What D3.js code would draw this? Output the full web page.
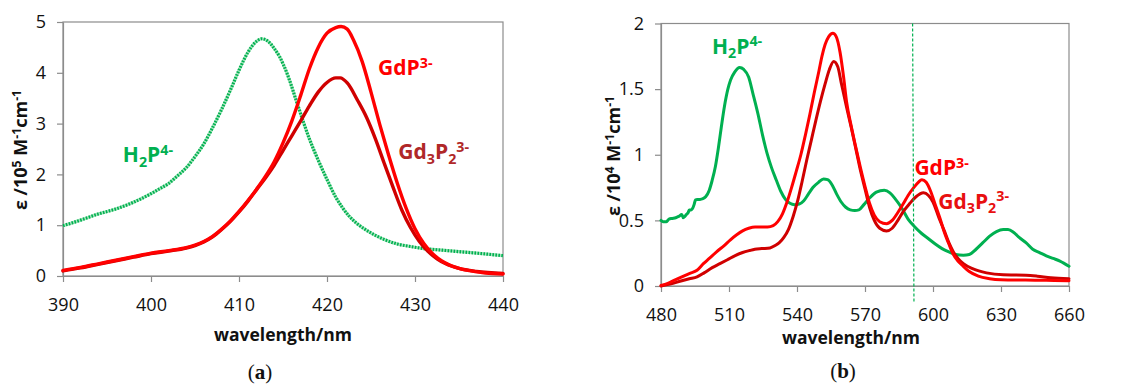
<!DOCTYPE html>
<html><head><meta charset="utf-8">
<script src="https://cdn.jsdelivr.net/npm/d3@7"></script>
<style>
html,body{margin:0;padding:0;background:#fff;}
svg{display:block;}
</style></head>
<body>
<svg id="chart" width="1130" height="385"></svg>
<script>
// ---------------- DATA ----------------
// Panel (a): Soret region, eps / 10^5 M^-1 cm^-1
const aXTicks = [390, 400, 410, 420, 430, 440];
const aYTicks = [0, 1, 2, 3, 4, 5];
const aH2P = [[390,0.99],[392,1.10],[394,1.22],[396,1.32],[398,1.45],[400,1.62],[401,1.72],[402,1.82],[403,1.97],[404,2.13],[405,2.35],[406,2.60],[407,2.92],[408,3.27],[409,3.65],[410,4.05],[411,4.40],[412,4.62],[412.6,4.67],[413.3,4.62],[414,4.48],[414.6,4.32],[415.5,3.97],[416.7,3.35],[418,2.70],[419,2.28],[420,1.90],[421,1.55],[421.7,1.36],[422.5,1.18],[423.5,1.02],[424.5,0.90],[425.5,0.80],[426.5,0.72],[428,0.63],[429.5,0.58],[431,0.54],[433,0.51],[435,0.48],[437,0.45],[440,0.40]];
const aGdP = [[390,0.11],[392,0.17],[394,0.24],[396,0.31],[398,0.38],[400,0.45],[402,0.50],[404,0.56],[405,0.61],[406,0.68],[407,0.78],[408,0.92],[409,1.08],[410,1.27],[411,1.48],[412,1.71],[413,1.96],[414,2.25],[415,2.62],[416,3.05],[417,3.55],[418,4.08],[419,4.50],[420,4.78],[421,4.89],[421.6,4.91],[422.3,4.86],[423,4.65],[424,4.22],[425,3.62],[426,2.98],[427,2.38],[428,1.82],[429,1.33],[430,0.93],[431,0.64],[432,0.44],[433,0.30],[434,0.21],[435,0.15],[436,0.11],[437,0.08],[438,0.06],[440,0.04]];
const aGd3P2 = [[390,0.10],[392,0.16],[394,0.23],[396,0.30],[398,0.37],[400,0.44],[402,0.49],[404,0.55],[405,0.60],[406,0.67],[407,0.77],[408,0.91],[409,1.07],[410,1.26],[411,1.47],[412,1.70],[413,1.93],[414,2.18],[415,2.47],[416,2.76],[417,3.05],[418,3.35],[419,3.62],[420,3.81],[421,3.90],[421.5,3.90],[422.3,3.80],[423.5,3.45],[424.5,3.12],[425.5,2.70],[426.5,2.22],[427.5,1.75],[428.5,1.30],[429.5,0.95],[430.5,0.68],[431.5,0.48],[432.5,0.34],[433.5,0.24],[435,0.15],[437,0.09],[440,0.05]];

// Panel (b): Q-band region, eps / 10^4 M^-1 cm^-1
const bXTicks = [480, 510, 540, 570, 600, 630, 660];
const bYTicks = [0, 0.5, 1, 1.5, 2];
const bH2P = [[480,0.50],[481,0.49],[482.4,0.49],[483.5,0.51],[485,0.515],[486.5,0.52],[487.8,0.53],[489.2,0.545],[489.8,0.52],[490.5,0.53],[491.2,0.545],[492,0.56],[492.5,0.58],[493.3,0.58],[493.9,0.59],[494.6,0.62],[495.2,0.655],[496,0.66],[497.2,0.66],[498.5,0.665],[499.7,0.68],[501.3,0.73],[502.5,0.80],[504,0.91],[505.3,1.05],[506.6,1.21],[508,1.37],[509.5,1.50],[510.7,1.57],[512.5,1.63],[514.7,1.665],[516.5,1.65],[518.7,1.59],[520.5,1.47],[522.8,1.31],[524.8,1.15],[526.8,1.01],[528.8,0.90],[530.8,0.81],[532.9,0.72],[534.9,0.66],[536.9,0.63],[538.9,0.62],[541,0.625],[543,0.65],[545,0.70],[547,0.75],[549.5,0.79],[551.7,0.815],[553.5,0.81],[555.5,0.77],[557.5,0.70],[559.5,0.64],[561.5,0.60],[563.5,0.58],[565.5,0.575],[567.3,0.58],[569.5,0.62],[572,0.67],[575,0.715],[578.5,0.73],[581,0.71],[583.5,0.66],[586,0.60],[589,0.51],[592,0.45],[595,0.40],[598,0.36],[601,0.32],[604,0.285],[607,0.26],[610,0.24],[613.4,0.235],[616,0.24],[619,0.28],[622,0.33],[625,0.38],[628,0.415],[631,0.43],[633.1,0.43],[635.5,0.41],[638,0.37],[641,0.33],[644,0.28],[647,0.255],[650,0.23],[653,0.21],[656,0.19],[660,0.15]];
const bGdP = [[480,0.005],[483,0.02],[486,0.045],[489.2,0.07],[492.5,0.095],[495.9,0.12],[498.7,0.17],[501.3,0.21],[504.5,0.26],[508,0.31],[510.5,0.35],[513.4,0.39],[516,0.42],[518.7,0.44],[521.5,0.45],[524.1,0.45],[527,0.45],[529.5,0.46],[531.5,0.49],[533.6,0.55],[535.6,0.64],[537.6,0.75],[539.6,0.87],[541.7,1.0],[543.7,1.15],[545.7,1.31],[547.7,1.48],[549.7,1.64],[551,1.75],[552.4,1.84],[554,1.90],[555.8,1.925],[557.3,1.90],[559,1.78],[560.5,1.60],[561.9,1.40],[563.9,1.22],[565.9,1.06],[568,0.90],[570,0.76],[572,0.63],[574.1,0.54],[576.5,0.49],[579.5,0.475],[582,0.50],[584.5,0.56],[587,0.63],[589,0.69],[591.5,0.75],[593.5,0.79],[595.1,0.81],[597,0.79],[599,0.72],[601,0.62],[603,0.52],[605,0.41],[607,0.32],[609,0.24],[611,0.19],[613.4,0.15],[616,0.11],[620,0.075],[625,0.056],[630,0.048],[640,0.045],[650,0.043],[660,0.04]];
const bGd3P2 = [[480,0.0],[484,0.015],[489.2,0.04],[492.5,0.055],[495.9,0.07],[499,0.10],[502.6,0.14],[506,0.17],[509.3,0.20],[512.5,0.23],[516,0.255],[519,0.27],[521.4,0.28],[524.5,0.285],[528.1,0.29],[530.5,0.31],[532.2,0.33],[534.2,0.37],[536.2,0.43],[538.3,0.53],[540.3,0.65],[542.3,0.80],[544.3,0.96],[546.3,1.11],[548.3,1.26],[550.4,1.41],[552.4,1.54],[554.3,1.65],[556.2,1.71],[558,1.67],[559.5,1.55],[561.9,1.36],[563.9,1.21],[565.9,1.05],[568,0.88],[570,0.74],[572,0.60],[574.1,0.50],[576.5,0.44],[579.5,0.42],[582,0.44],[584.5,0.50],[587,0.57],[589.8,0.63],[592.5,0.68],[595.8,0.71],[598,0.69],[600,0.64],[602.6,0.52],[605,0.42],[607,0.33],[609,0.26],[611,0.21],[613.4,0.17],[617.7,0.13],[623.6,0.10],[631,0.085],[641,0.082],[646,0.075],[652,0.062],[660,0.055]];
const bMarkerLine = [[591.0, 2.0], [591.6, -0.13]];

// Label texts (parts: t = text, s = 'sub' | 'sup')
const lblH2P = [{t:"H"},{t:"2",s:"sub"},{t:"P"},{t:"4-",s:"sup"}];
const lblGdP = [{t:"GdP"},{t:"3-",s:"sup"}];
const lblGd3P2 = [{t:"Gd"},{t:"3",s:"sub"},{t:"P"},{t:"2",s:"sub"},{t:"3-",s:"sup"}];
const xTitle = "wavelength/nm";
const aYTitle = [{t:"ε /10"},{t:"5",s:"sup"},{t:" M"},{t:"-1",s:"sup"},{t:"cm"},{t:"-1",s:"sup"}];
const bYTitle = [{t:"ε /10"},{t:"4",s:"sup"},{t:" M"},{t:"-1",s:"sup"},{t:"cm"},{t:"-1",s:"sup"}];

// ---------------- DRAW ----------------
const svg = d3.select("#chart");
const FONT = "'Open Sans', 'Liberation Sans', sans-serif";
const GREEN = "#00b050", RED = "#ff0000", DARKRED = "#d00000";
const AXIS = "#8c8c8c";

function rich(sel, parts, size) {
  let shift = 0;
  parts.forEach(p => {
    const fs = p.s ? size * 0.68 : size;
    const target = p.s === "sup" ? -size * 0.36 : p.s === "sub" ? size * 0.22 : 0;
    sel.append("tspan").attr("dy", target - shift).attr("font-size", fs).text(p.t);
    shift = target;
  });
}

function panel(cfg) {
  const x = d3.scaleLinear().domain(cfg.xDomain).range([cfg.left, cfg.right]);
  const y = d3.scaleLinear().domain(cfg.yDomain).range([cfg.bottom, cfg.top]);
  const g = svg.append("g");

  g.append("rect").attr("x", cfg.left).attr("y", cfg.top)
    .attr("width", cfg.right - cfg.left).attr("height", cfg.bottom - cfg.top)
    .attr("fill", "none").attr("stroke", AXIS).attr("stroke-width", 1.2);

  const xAxis = g.append("g").attr("transform", `translate(0,${cfg.bottom})`)
    .call(d3.axisBottom(x).tickValues(cfg.xTicks).tickSize(6).tickSizeOuter(0).tickPadding(16));
  const yAxis = g.append("g").attr("transform", `translate(${cfg.left},0)`)
    .call(d3.axisLeft(y).tickValues(cfg.yTicks).tickSize(6).tickSizeOuter(0).tickPadding(11).tickFormat(d3.format("")));
  [xAxis, yAxis].forEach(a => {
    a.select(".domain").attr("stroke", AXIS).attr("stroke-width", 1.2);
    a.selectAll(".tick line").attr("stroke", AXIS).attr("stroke-width", 1.2);
    a.selectAll(".tick text").attr("font-family", FONT).attr("font-size", 18).attr("fill", "#111");
  });

  const line = d3.line().x(d => x(d[0])).y(d => y(d[1])).curve(d3.curveMonotoneX);
  cfg.series.forEach(s => {
    if (s.hatched) {
      g.append("path").datum(s.data).attr("d", line).attr("fill", "none")
        .attr("stroke", "#a8e6bf").attr("stroke-width", s.width);
      g.append("path").datum(s.data).attr("d", line).attr("fill", "none")
        .attr("stroke", s.color).attr("stroke-width", s.width).attr("stroke-dasharray", "1.6,1.4");
    } else {
      g.append("path").datum(s.data).attr("d", line).attr("fill", "none")
        .attr("stroke", s.color).attr("stroke-width", s.width)
        .attr("stroke-linejoin", "round").attr("stroke-linecap", "round");
    }
  });

  if (cfg.marker) {
    g.append("line").attr("x1", x(cfg.marker[0][0])).attr("y1", y(cfg.marker[0][1]))
      .attr("x2", x(cfg.marker[1][0])).attr("y2", y(cfg.marker[1][1]))
      .attr("stroke", GREEN).attr("stroke-width", 1.2).attr("stroke-dasharray", "3,2");
  }

  cfg.labels.forEach(l => {
    const t = g.append("text").attr("x", x(l.at[0])).attr("y", y(l.at[1]))
      .attr("font-family", FONT).attr("font-weight", 700).attr("font-size", l.size)
      .attr("fill", l.color);
    rich(t, l.parts, l.size);
  });

  g.append("text").attr("x", cfg.xTitleX).attr("y", cfg.xTitleY).attr("text-anchor", "middle")
    .attr("font-family", FONT).attr("font-weight", 700).attr("font-size", 17.5).attr("fill", "#111")
    .text(xTitle);
  const yt = g.append("text").attr("transform", `translate(${cfg.yTitleX},${cfg.yTitleY}) rotate(-90)`)
    .attr("text-anchor", "middle").attr("font-family", FONT).attr("font-weight", 700)
    .attr("font-size", 18).attr("fill", "#111");
  rich(yt, cfg.yTitle, 18);
  const pl = g.append("text").attr("x", cfg.letterX).attr("y", cfg.letterY).attr("text-anchor", "middle")
    .attr("font-family", "'Liberation Serif', 'DejaVu Serif', serif").attr("font-size", 21).attr("fill", "#111");
  pl.append("tspan").text("(");
  pl.append("tspan").attr("font-weight", 700).text(cfg.letter);
  pl.append("tspan").text(")");
}

panel({
  left: 63, right: 503, top: 22, bottom: 276,
  xDomain: [390, 440], yDomain: [0, 5], xTicks: aXTicks, yTicks: aYTicks,
  series: [
    {data: aH2P, color: GREEN, width: 3.2, hatched: true},
    {data: aGd3P2, color: DARKRED, width: 3.4},
    {data: aGdP, color: RED, width: 3.4}
  ],
  labels: [
    {parts: lblH2P, at: [396.8, 2.24], color: GREEN, size: 21},
    {parts: lblGdP, at: [425.8, 3.95], color: RED, size: 21},
    {parts: lblGd3P2, at: [428.1, 2.3], color: "#b02828", size: 21}
  ],
  xTitleX: 283, xTitleY: 341, yTitleX: 27, yTitleY: 150, yTitle: aYTitle,
  letter: "a", letterX: 260, letterY: 379
});

panel({
  left: 661, right: 1069, top: 23.5, bottom: 286,
  xDomain: [480, 660], yDomain: [0, 2], xTicks: bXTicks, yTicks: bYTicks,
  series: [
    {data: bH2P, color: GREEN, width: 3},
    {data: bGd3P2, color: DARKRED, width: 3},
    {data: bGdP, color: RED, width: 3}
  ],
  marker: bMarkerLine,
  labels: [
    {parts: lblH2P, at: [502.5, 1.77], color: GREEN, size: 21},
    {parts: lblGdP, at: [591.8, 0.845], color: RED, size: 21},
    {parts: lblGd3P2, at: [602.3, 0.59], color: "#e81010", size: 21}
  ],
  xTitleX: 851, xTitleY: 344, yTitleX: 620, yTitleY: 156, yTitle: bYTitle,
  letter: "b", letterX: 843, letterY: 378
});
</script>
</body></html>
